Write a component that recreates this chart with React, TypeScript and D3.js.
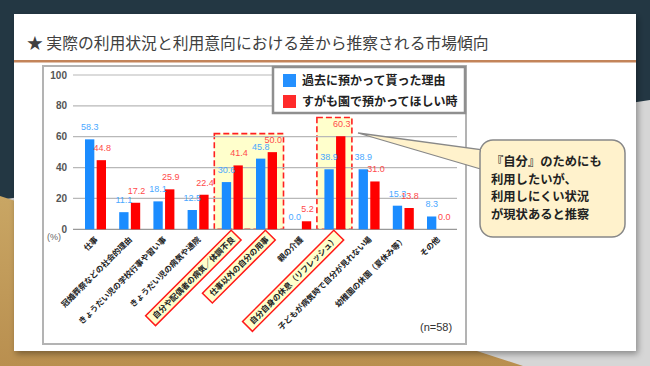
import * as d3 from "d3";

const categories = [
  "仕事",
  "冠婚葬祭などの社会的理由",
  "きょうだい児の学校行事や習い事",
  "きょうだい児の病気や通院",
  "自分や配偶者の病気／体調不良",
  "仕事以外の自分の用事",
  "親の介護",
  "自分自身の休息（リフレッシュ）",
  "子どもが病気時で自分が見れない場",
  "幼稚園の休園（夏休み等）",
  "その他",
];
const pastValues = [58.3, 11.1, 18.1, 12.5, 30.6, 45.8, 0.0, 38.9, 38.9, 15.3, 8.3];
const wantValues = [44.8, 17.2, 25.9, 22.4, 41.4, 50.0, 5.2, 60.3, 31.0, 13.8, 0.0];
const seriesNames = ["過去に預かって貰った理由", "すがも園で預かってほしい時"];
const yTicks = [0, 20, 40, 60, 80, 100];
const highlighted = [4, 5, 7];
const calloutLines = ["『自分』のためにも", "利用したいが、", "利用しにくい状況", "が現状あると推察"];

const W = 650, H = 366;
const BLUE = "#1b8cff", RED = "#ff0000";
const JP = "'Noto Sans CJK JP', 'Noto Sans', sans-serif";
const NUM = "'Liberation Sans', Arial, sans-serif";

export default function App() {
  const x = d3.scaleBand<string>().domain(categories).range([78.4, 454.6])
    .paddingInner(0.386).paddingOuter(0.193);
  const xs = d3.scaleBand<string>().domain(["past", "want"]).range([0, x.bandwidth()]).paddingInner(0.2);
  const y = d3.scaleLinear().domain([0, 100]).range([229.3, 75]);

  const cx = (i: number) => (x(categories[i]) ?? 0) + x.bandwidth() / 2;

  // dashed highlight boxes on the plot
  const boxes = [
    { from: 4, to: 5, top: 62 },
    { from: 7, to: 7, top: 72.5 },
  ];

  const labFont = 8;

  return (
    <svg width={W} height={H} style={{ position: "absolute", left: 0, top: 0 }}>
      <defs>
        <filter id="sh" x="-5%" y="-5%" width="110%" height="115%">
          <feDropShadow dx="2" dy="3" stdDeviation="3" floodColor="#000" floodOpacity="0.35" />
        </filter>
        <linearGradient id="gold" x1="0" y1="0" x2="0" y2="1">
          <stop offset="0" stopColor="#c9a664" />
          <stop offset="1" stopColor="#b98f4f" />
        </linearGradient>
      </defs>
      {/* background */}
      <rect width={W} height={H} fill="#233743" />
      <polygon points="650,100 650,366 0,366 0,200" fill="#d6d6d6" />
      <polygon points="0,196 523,366 0,366" fill="url(#gold)" />
      <rect x={14} y={14} width={622} height={337} fill="#fff" filter="url(#sh)" />

      {/* title */}
      <text x={27} y={48.5} fontFamily={JP} fontSize={15.8} fill="#404040">
        ★ 実際の利用状況と利用意向における差から推察される市場傾向
      </text>
      <rect x={14} y={60} width={622} height={2.5} fill="#c3845a" />

      {/* chart frame */}
      <rect x={43} y={66} width={423} height={278} fill="#fff" stroke="#b3b3b3" strokeWidth={2} />

      {/* highlight boxes */}
      {boxes.map((b, k) => {
        const x0 = (x(categories[b.from]) ?? 0) - 7.5;
        const x1 = (x(categories[b.to]) ?? 0) + x.bandwidth() + 6.5;
        return (
          <rect key={k} x={x0} y={y(b.top)} width={x1 - x0} height={y(0) - y(b.top)}
            fill="#ffffcc" stroke="#ff2020" strokeWidth={1.6} strokeDasharray="6,3" />
        );
      })}

      {/* grid + y ticks */}
      {yTicks.map((t) => (
        <g key={t}>
          <line x1={73} x2={457} y1={y(t)} y2={y(t)} stroke={t === 0 ? "#999" : "#b8b8b8"} strokeWidth={1.2} />
          <text x={67} y={y(t) + 3.5} textAnchor="end" fontFamily={NUM} fontSize={10} fontWeight="bold" fill="#555">
            {t}
          </text>
        </g>
      ))}
      <text x={47} y={240} fontFamily={NUM} fontSize={9} fill="#666">(%)</text>

      {/* bars */}
      {categories.map((c, i) => {
        const bx = x(c) ?? 0;
        const pv = pastValues[i], wv = wantValues[i];
        const pb = bx + (xs("past") ?? 0), wb = bx + (xs("want") ?? 0);
        return (
          <g key={c}>
            <rect x={pb} y={y(pv)} width={xs.bandwidth()} height={y(0) - y(pv)} fill={BLUE} />
            <rect x={wb} y={y(wv)} width={xs.bandwidth()} height={y(0) - y(wv)} fill={RED} />
            <text x={pb + xs.bandwidth() / 2} y={y(pv) - 9} textAnchor="middle" fontFamily={NUM} fontSize={9} fill="#4aa8ff">
              {pv.toFixed(1)}
            </text>
            <text x={wb + xs.bandwidth() / 2 + 1} y={y(wv) - 9} textAnchor="middle" fontFamily={NUM} fontSize={9} fill="#ff4a4a">
              {wv.toFixed(1)}
            </text>
          </g>
        );
      })}

      {/* x labels */}
      {categories.map((c, i) => {
        const len = c.length * labFont;
        const hl = highlighted.includes(i);
        return (
          <g key={c} transform={`translate(${cx(i) + 1},${238}) rotate(-45)`}>
            {hl && (
              <rect x={-len - 5} y={-7} width={len + 9} height={14} fill="#ffffcc" stroke="#ff1a1a" strokeWidth={1.5} />
            )}
            <text x={0} y={0} dy="0.35em" textAnchor="end" fontFamily={JP} fontSize={labFont} fontWeight="bold" fill="#222">
              {c}
            </text>
          </g>
        );
      })}

      <text x={420} y={331} fontFamily={NUM} fontSize={11} fill="#333">(n=58)</text>

      {/* legend */}
      <rect x={273} y={67} width={192} height={46} fill="#fff" stroke="#8f8f8f" strokeWidth={2.5} />
      {seriesNames.map((s, k) => (
        <g key={s}>
          <rect x={283} y={74 + k * 21} width={13} height={13} fill={k === 0 ? "#2490ff" : "#ff2a2a"} />
          <text x={302} y={85 + k * 21} fontFamily={JP} fontSize={12} fontWeight="bold" fill="#222">{s}</text>
        </g>
      ))}

      {/* callout */}
      <path d="M358,133 L484,150 L484,170 Z" fill="#fff2cc" stroke="#888" strokeWidth={1.3} />
      <rect x={480} y={140} width={145} height={97} rx={13} fill="#fff2cc" stroke="#888" strokeWidth={1.5} />
      <rect x={481} y={149} width={6} height={23} fill="#fff2cc" />
      {calloutLines.map((l, k) => (
        <text key={k} x={491} y={166 + k * 17.5} fontFamily={JP} fontSize={12.3} fontWeight="bold" fill="#222">{l}</text>
      ))}
    </svg>
  );
}
